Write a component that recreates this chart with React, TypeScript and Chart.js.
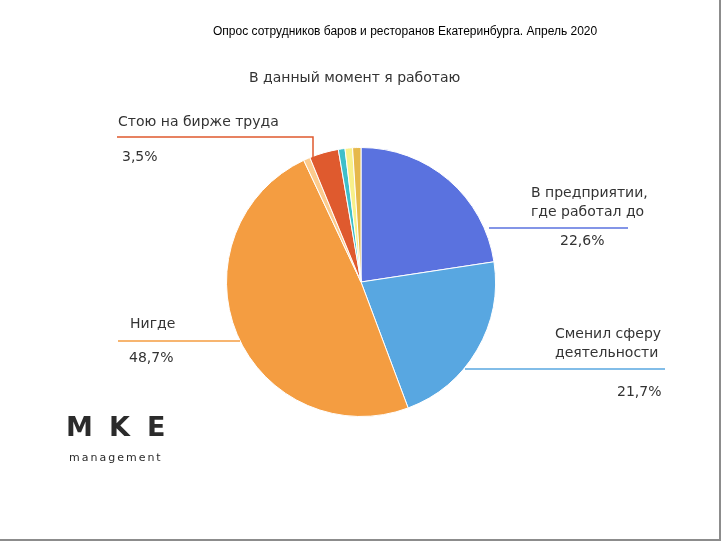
import React, { useEffect, useRef } from "react";
import { Chart, registerables } from "chart.js";

Chart.register(...registerables);

const categories = [
  "В предприятии, где работал до",
  "Сменил сферу деятельности",
  "Нигде",
  "Другое (1)",
  "Стою на бирже труда",
  "Другое (2)",
  "Другое (3)",
  "Другое (4)",
];
const values = [22.6, 21.7, 48.7, 0.8, 3.5, 0.8, 0.9, 1.0];
const colors = ["#5A72DF", "#58A7E1", "#F49D41", "#FCCB8D", "#DF5A2E", "#3EBFCA", "#F8F08A", "#E6B84B"];
const mainTitle = "Опрос сотрудников баров и ресторанов Екатеринбурга. Апрель 2020";
const subTitle = "В данный момент я работаю";

const fmt = (v: number) => v.toFixed(1).replace(".", ",");

const LABEL_FONT = '14px "DejaVu Sans"';
const TEXT = "#333333";

const overlay = {
  id: "overlay",
  beforeDraw(chart: any) {
    const ctx = chart.ctx;
    ctx.save();
    ctx.fillStyle = "#ffffff";
    ctx.fillRect(0, 0, chart.width, chart.height);
    ctx.restore();
  },
  afterDraw(chart: any) {
    const ctx = chart.ctx as CanvasRenderingContext2D;
    ctx.save();
    ctx.textBaseline = "middle";
    ctx.textAlign = "left";

    // titles
    ctx.fillStyle = "#000000";
    ctx.font = '12px "Liberation Sans"';
    ctx.fillText(mainTitle, 213, 32);
    ctx.fillStyle = TEXT;
    ctx.font = LABEL_FONT;
    ctx.fillText(subTitle, 249, 78);

    const line = (pts: number[][], color: string) => {
      ctx.strokeStyle = color;
      ctx.lineWidth = 1.5;
      ctx.beginPath();
      ctx.moveTo(pts[0][0], pts[0][1]);
      for (let i = 1; i < pts.length; i++) ctx.lineTo(pts[i][0], pts[i][1]);
      ctx.stroke();
    };

    // Стою на бирже труда
    line([[117, 137], [313, 137], [313, 158]], colors[4]);
    ctx.fillText(categories[4], 118, 122);
    ctx.fillText(fmt(values[4]) + "%", 122, 157);

    // В предприятии
    line([[489, 228], [628, 228]], colors[0]);
    ctx.fillText("В предприятии,", 531, 193);
    ctx.fillText("где работал до", 531, 212);
    ctx.fillText(fmt(values[0]) + "%", 560, 241);

    // Сменил сферу
    line([[465, 369], [665, 369]], colors[1]);
    ctx.fillText("Сменил сферу", 555, 334);
    ctx.fillText("деятельности", 555, 353);
    ctx.fillText(fmt(values[1]) + "%", 617, 392);

    // Нигде
    line([[118, 341], [240, 341]], colors[2]);
    ctx.fillText(categories[2], 130, 324);
    ctx.fillText(fmt(values[2]) + "%", 129, 358);

    // logo
    ctx.fillStyle = "#2B2B2B";
    ctx.font = 'bold 27px "DejaVu Sans"';
    (ctx as any).letterSpacing = "0px";
    ctx.fillText("M", 66, 429);
    ctx.fillText("K", 109, 429);
    ctx.fillText("E", 147, 429);
    ctx.font = '11px "DejaVu Sans"';
    (ctx as any).letterSpacing = "2px";
    ctx.fillText("management", 69, 458);
    (ctx as any).letterSpacing = "0px";

    // frame shadow
    ctx.fillStyle = "#8C8C8C";
    ctx.fillRect(719, 0, 2, chart.height);
    ctx.fillRect(0, 539, chart.width, 2);
    ctx.restore();
  },
};

export default function App() {
  const ref = useRef<HTMLCanvasElement | null>(null);
  useEffect(() => {
    if (!ref.current) return;
    const chart = new Chart(ref.current, {
      type: "pie",
      data: {
        labels: categories,
        datasets: [
          {
            data: values,
            backgroundColor: colors,
            borderColor: "#ffffff",
            borderWidth: 1,
          },
        ],
      },
      options: {
        responsive: false,
        animation: false,
        layout: { padding: { top: 147, bottom: 124, left: 226, right: 225 } },
        plugins: { legend: { display: false }, tooltip: { enabled: false }, title: { display: false } },
      },
      plugins: [overlay],
    });
    return () => chart.destroy();
  }, []);
  return (
    <div style={{ position: "absolute", left: 0, top: 0, width: 721, height: 541 }}>
      <canvas ref={ref} width={721} height={541} />
    </div>
  );
}
